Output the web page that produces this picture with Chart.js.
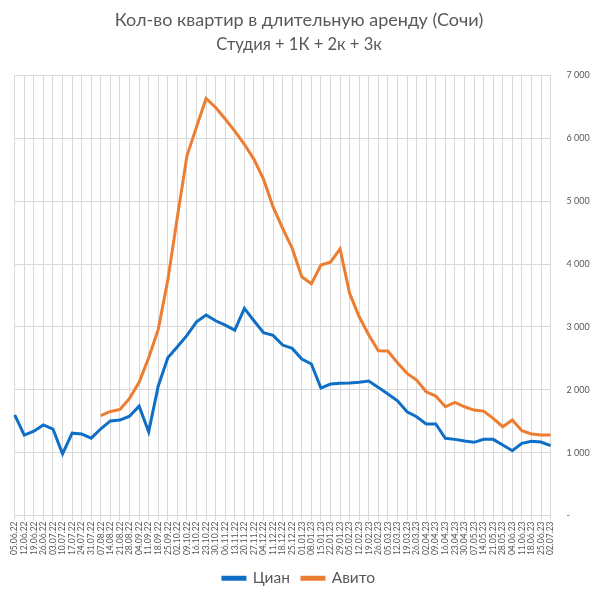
<!DOCTYPE html>
<html>
<head>
<meta charset="utf-8">
<script src="https://cdn.jsdelivr.net/npm/chart.js@4"></script>
<style>
  html, body { margin: 0; padding: 0; background: #fff; }
  #wrap { width: 598px; height: 597px; }
</style>
</head>
<body>
<div id="wrap"><canvas id="chart"></canvas></div>
<script>
const weeks = [
  '05.06.22', '12.06.22', '19.06.22', '26.06.22', '03.07.22', '10.07.22', '17.07.22', '24.07.22',
  '31.07.22', '07.08.22', '14.08.22', '21.08.22', '28.08.22', '04.09.22', '11.09.22', '18.09.22',
  '25.09.22', '02.10.22', '09.10.22', '16.10.22', '23.10.22', '30.10.22', '06.11.22', '13.11.22',
  '20.11.22', '27.11.22', '04.12.22', '11.12.22', '18.12.22', '25.12.22', '01.01.23', '08.01.23',
  '15.01.23', '22.01.23', '29.01.23', '05.02.23', '12.02.23', '19.02.23', '26.02.23', '05.03.23',
  '12.03.23', '19.03.23', '26.03.23', '02.04.23', '09.04.23', '16.04.23', '23.04.23', '30.04.23',
  '07.05.23', '14.05.23', '21.05.23', '28.05.23', '04.06.23', '11.06.23', '18.06.23', '25.06.23',
  '02.07.23'
];

const cian = [
  1600, 1280, 1340, 1440, 1375, 980, 1310, 1295,
  1230, 1380, 1505, 1518, 1580, 1740, 1330, 2060,
  2510, 2684, 2865, 3080, 3188, 3097, 3029, 2949,
  3294, 3097, 2906, 2865, 2711, 2658, 2490, 2410,
  2027, 2091, 2105, 2107, 2118, 2138, 2038, 1932,
  1825, 1650, 1571, 1455, 1455, 1227, 1211, 1184,
  1164, 1211, 1211, 1121, 1030, 1148, 1180, 1168,
  1110
];

const avito = [
  null, null, null, null, null, null, null, null,
  null, 1590, 1655, 1688, 1863, 2120, 2510, 2960,
  3744, 4750, 5720, 6181, 6633, 6490, 6307, 6115,
  5905, 5665, 5350, 4909, 4566, 4248, 3797, 3685,
  3983, 4030, 4240, 3532, 3161, 2870, 2620, 2615,
  2429, 2261, 2154, 1968, 1900, 1730, 1800, 1730,
  1677, 1661, 1545, 1412, 1518, 1348, 1296, 1280,
  1280
];

const FONT = 'Lato, "Open Sans", sans-serif';
const GRAY = '#595959';
const GRID = '#d9d9d9';

function fmt(v) {
  if (v === 0) return '-';
  return String(v).replace(/\B(?=(\d{3})+(?!\d))/g, ' ');
}

new Chart(document.getElementById('chart'), {
  type: 'line',
  data: {
    labels: weeks,
    datasets: [
      {
        label: 'Циан',
        data: cian,
        borderColor: '#0f6fc6',
        backgroundColor: '#0f6fc6',
        borderWidth: 3,
        pointRadius: 0,
        tension: 0
      },
      {
        label: 'Авито',
        data: avito,
        borderColor: '#ed7d31',
        backgroundColor: '#ed7d31',
        borderWidth: 3,
        pointRadius: 0,
        tension: 0
      }
    ]
  },
  options: {
    responsive: true,
    maintainAspectRatio: false,
    animation: false,
    layout: { padding: { left: 4, right: 4, top: 0, bottom: 1 } },
    plugins: {
      title: {
        display: true,
        text: 'Кол-во квартир в длительную аренду (Сочи)',
        color: GRAY,
        font: { family: FONT, size: 18, weight: 'normal' },
        padding: { top: 9, bottom: 2 }
      },
      subtitle: {
        display: true,
        text: 'Студия + 1К + 2к + 3к',
        color: GRAY,
        font: { family: FONT, size: 16.5, weight: 'normal' },
        padding: { top: 2, bottom: 21 }
      },
      legend: {
        position: 'bottom',
        labels: {
          color: GRAY,
          boxWidth: 22,
          boxHeight: 2,
          font: { family: FONT, size: 15.5 },
          padding: 12
        }
      },
      tooltip: { enabled: false }
    },
    scales: {
      x: {
        grid: { color: GRID, tickLength: 5 },
        border: { color: GRID },
        ticks: {
          color: GRAY,
          autoSkip: false,
          minRotation: 90,
          maxRotation: 90,
          padding: 1,
          font: { family: FONT, size: 8.5 }
        },
        // keep first/last week exactly on the plot edges, like the original
        afterFit(s) { s.paddingLeft = 0; s.paddingRight = 0; s.height += 2.4; }
      },
      yL: {
        type: 'linear',
        position: 'left',
        grid: { display: false },
        border: { display: false },
        ticks: { display: false },
        afterFit(s) { s.width = 10.7; }
      },
      y: {
        position: 'right',
        min: 0,
        max: 7000,
        grid: { color: GRID, drawTicks: false },
        border: { display: false },
        ticks: {
          stepSize: 1000,
          color: GRAY,
          padding: 16,
          font: { family: FONT, size: 9 },
          callback: v => fmt(v)
        },
        afterFit(s) { s.width = 43.4; }
      }
    }
  }
});
</script>
</body>
</html>
